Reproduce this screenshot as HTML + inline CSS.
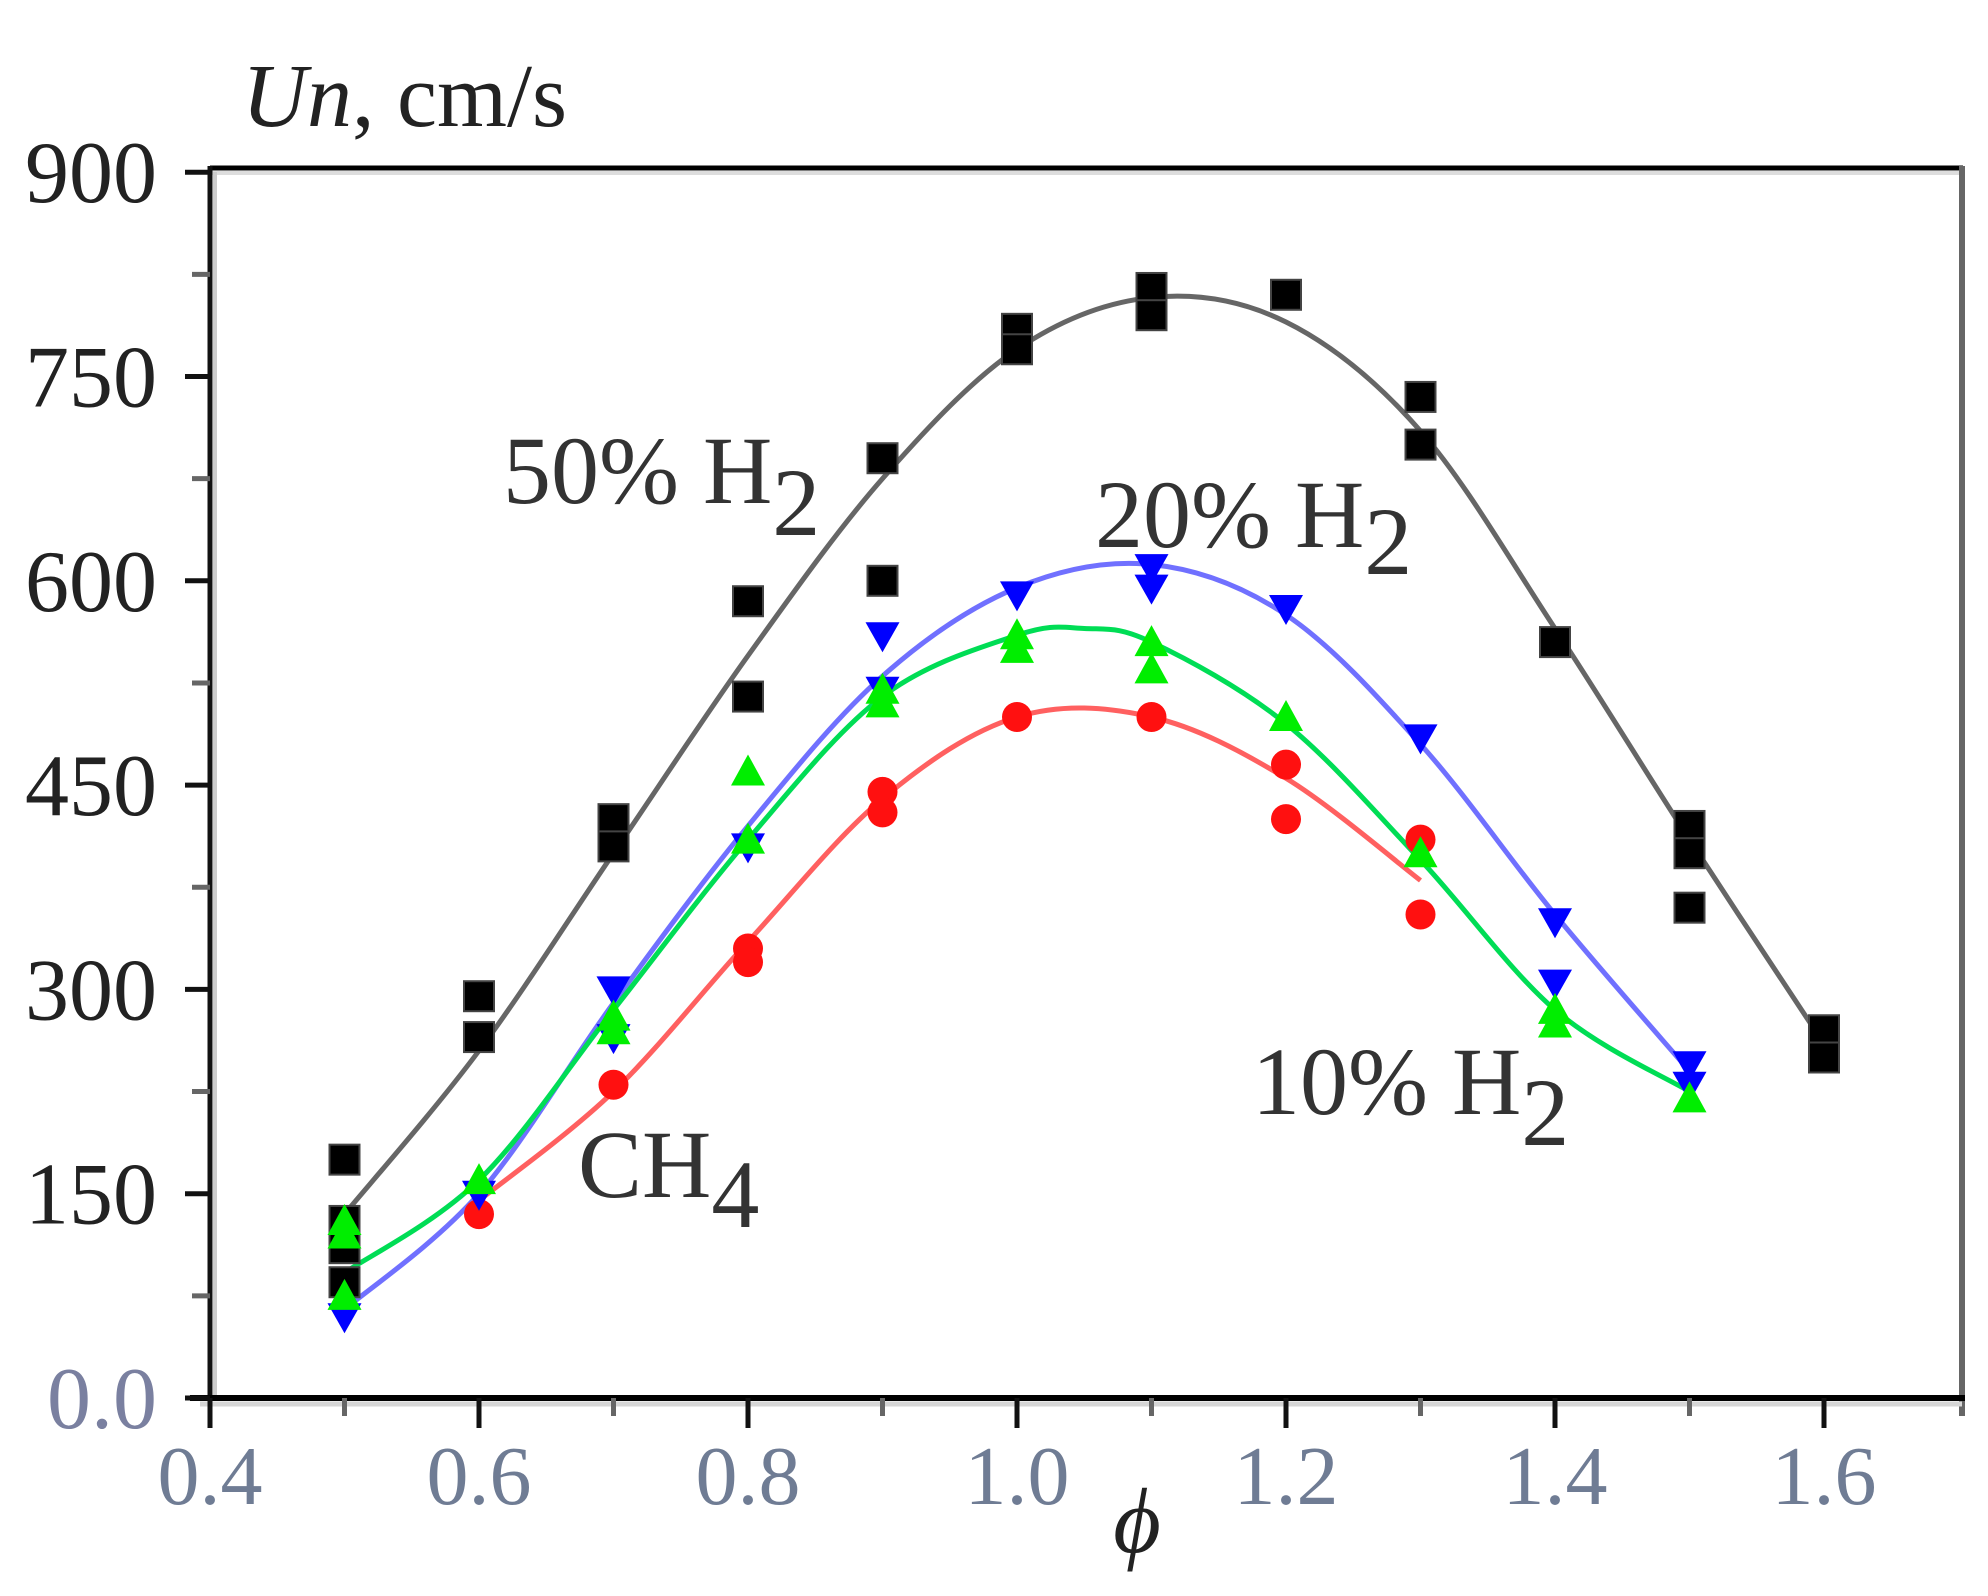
<!DOCTYPE html>
<html><head><meta charset="utf-8"><style>
html,body{margin:0;padding:0;background:#fff;}
svg{display:block;}
text{font-family:"Liberation Serif",serif;}
</style></head><body>
<svg id="s" width="1988" height="1596" viewBox="0 0 1988 1596" xmlns="http://www.w3.org/2000/svg">
<rect width="1988" height="1596" fill="#fff"/>
<g id="plot"></g>
<line x1="210" y1="168" x2="1963" y2="168" stroke="#000" stroke-width="5"/>
<line x1="210" y1="173" x2="1963" y2="173" stroke="#ddd" stroke-width="4"/>
<line x1="1962" y1="166" x2="1962" y2="1416" stroke="#666" stroke-width="6"/>
<line x1="210" y1="166" x2="210" y2="1428" stroke="#111" stroke-width="5"/>
<line x1="215" y1="172" x2="215" y2="1398" stroke="#ccc" stroke-width="4"/>
<line x1="190" y1="1398" x2="1965" y2="1398" stroke="#000" stroke-width="6"/>
<line x1="200" y1="1404" x2="1962" y2="1404" stroke="#d6d6d6" stroke-width="5"/>
<g id="ticks"></g>
<text x="242" y="126" font-size="90" fill="#222"><tspan font-style="italic">Un</tspan>, cm/s</text>
<text x="1137" y="1552" font-size="92" font-style="italic" fill="#222" text-anchor="middle">ϕ</text>
<g font-size="96" fill="#333">
<text x="503" y="503">50% H<tspan dy="32">2</tspan></text>
<text x="1095" y="547">20% H<tspan dy="27">2</tspan></text>
<text x="1252" y="1114">10% H<tspan dy="31">2</tspan></text>
<text x="578" y="1197">CH<tspan dy="30">4</tspan></text>
</g>
</svg>
<script>
const NS="http://www.w3.org/2000/svg";
const X=x=>210+(x-0.4)*1345, Y=y=>1398-y*1.362;
const plot=document.getElementById('plot'), ticks=document.getElementById('ticks');
function el(p,tag,a,txt){const e=document.createElementNS(NS,tag);for(const k in a)e.setAttribute(k,a[k]);if(txt!=null)e.textContent=txt;p.appendChild(e);return e;}
for(let v=0;v<=900;v+=75){const y=Y(v);const maj=v%150==0;
 el(ticks,'line',{x1:maj?185:192,y1:y,x2:210,y2:y,stroke:maj?'#111':'#666','stroke-width':5});
 if(maj) el(ticks,'text',{x:157,y:y+30,'font-size':88,'text-anchor':'end',fill:v==0?'#7a80a0':'#222'},v==0?'0.0':String(v));}
for(let i=0;i<=13;i++){const xv=0.4+i*0.1;const x=X(xv);const maj=i%2==0;if(xv>1.66)break;
 el(ticks,'line',{x1:x,y1:1398,x2:x,y2:maj?1428:1416,stroke:maj?'#111':'#666','stroke-width':5});
 if(maj) el(ticks,'text',{x:x,y:1504,'font-size':84,'text-anchor':'middle',fill:'#6f7c94'},xv.toFixed(1));}
function curve(pts,color,w){
 const P=pts.map(p=>[X(p[0]),Y(p[1])]);let d='M'+P[0][0]+','+P[0][1];
 for(let i=0;i<P.length-1;i++){const p0=P[Math.max(0,i-1)],p1=P[i],p2=P[i+1],p3=P[Math.min(P.length-1,i+2)];
  const c1=[p1[0]+(p2[0]-p0[0])/6,p1[1]+(p2[1]-p0[1])/6],c2=[p2[0]-(p3[0]-p1[0])/6,p2[1]-(p3[1]-p1[1])/6];
  d+=` C${c1[0]},${c1[1]} ${c2[0]},${c2[1]} ${p2[0]},${p2[1]}`;}
 el(plot,'path',{d:d,fill:'none',stroke:color,'stroke-width':w});}
curve([[0.5,135],[0.6,255],[0.7,400],[0.8,545],[0.9,675],[1.0,770],[1.1,808],[1.2,790],[1.3,710],[1.4,565],[1.5,410],[1.6,260]],'#666',5);
curve([[0.5,65],[0.6,150],[0.7,290],[0.8,420],[0.9,530],[1.0,595],[1.1,612],[1.2,575],[1.3,480],[1.4,355],[1.5,240]],'#7070ff',5);
curve([[0.6,145],[0.7,225],[0.8,335],[0.9,440],[1.0,500],[1.1,500],[1.2,455],[1.3,380]],'#ff6060',5);
curve([[0.5,92],[0.6,160],[0.7,285],[0.8,410],[0.9,515],[1.0,560],[1.05,565],[1.1,555],[1.2,495],[1.3,395],[1.4,285],[1.5,225]],'#00dd55',5);
function sq(x,y){el(plot,'rect',{x:X(x)-15,y:Y(y)-15,width:30,height:30,fill:'#000',stroke:'#444','stroke-width':2});}
function dn(x,y){const a=X(x),b=Y(y);el(plot,'polygon',{points:`${a-17},${b-13} ${a+17},${b-13} ${a},${b+17}`,fill:'#0000ff'});}
function up(x,y){const a=X(x),b=Y(y);el(plot,'polygon',{points:`${a-17},${b+14} ${a+17},${b+14} ${a},${b-17}`,fill:'#00ee00'});}
function ci(x,y){el(plot,'circle',{cx:X(x),cy:Y(y),r:15,fill:'#ff1010'});}
[[0.5,175],[0.5,130],[0.5,110],[0.5,85],[0.6,295],[0.6,265],[0.7,425],[0.7,405],[0.8,585],[0.8,515],[0.9,690],[0.9,600],[1.0,785],[1.0,770],[1.1,815],[1.1,795],[1.2,810],[1.3,735],[1.3,700],[1.4,555],[1.5,420],[1.5,400],[1.5,360],[1.6,270],[1.6,250]].forEach(p=>sq(...p));
[[0.6,135],[0.7,230],[0.8,330],[0.8,320],[0.9,445],[0.9,430],[1.0,500],[1.1,500],[1.2,465],[1.2,425],[1.3,410],[1.3,355]].forEach(p=>ci(...p));
[[0.5,60],[0.6,150],[0.7,300],[0.7,265],[0.8,405],[0.9,560],[0.9,520],[1.0,590],[1.1,610],[1.1,595],[1.2,580],[1.3,485],[1.4,350],[1.4,305],[1.5,245],[1.5,230]].forEach(p=>dn(...p));
[[0.5,130],[0.5,120],[0.5,75],[0.6,160],[0.7,280],[0.7,270],[0.8,460],[0.8,410],[0.9,520],[0.9,510],[1.0,560],[1.0,550],[1.1,555],[1.1,535],[1.2,500],[1.3,400],[1.4,285],[1.4,275],[1.5,220]].forEach(p=>up(...p));
</script>
</body></html>
